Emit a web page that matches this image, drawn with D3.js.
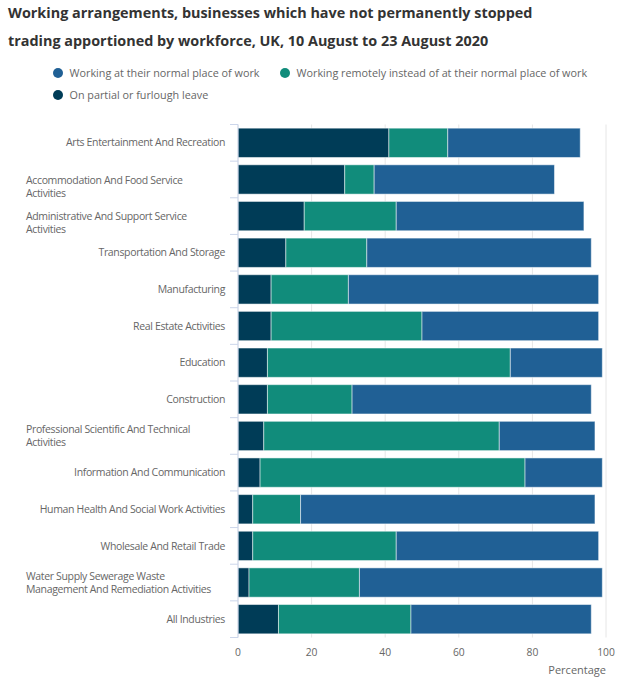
<!DOCTYPE html>
<html>
<head>
<meta charset="utf-8">
<script src="https://cdn.jsdelivr.net/npm/d3@7"></script>
<style>
  body { margin: 0; background: #fff; font-family: "Open Sans", sans-serif; }
</style>
</head>
<body>
<div id="chart"></div>
<script>
// categories, top to bottom
var industries = [
  ["Arts Entertainment And Recreation"],
  ["Accommodation And Food Service", "Activities"],
  ["Administrative And Support Service", "Activities"],
  ["Transportation And Storage"],
  ["Manufacturing"],
  ["Real Estate Activities"],
  ["Education"],
  ["Construction"],
  ["Professional Scientific And Technical", "Activities"],
  ["Information And Communication"],
  ["Human Health And Social Work Activities"],
  ["Wholesale And Retail Trade"],
  ["Water Supply Sewerage Waste", "Management And Remediation Activities"],
  ["All Industries"]
];

// series values (%)
var furlough = [41, 29, 18, 13, 9, 9, 8, 8, 7, 6, 4, 4, 3, 11];
var remote   = [16, 8, 25, 22, 21, 41, 66, 23, 64, 72, 13, 39, 30, 36];
var normal   = [36, 49, 51, 61, 68, 48, 25, 65, 26, 21, 80, 55, 66, 49];

var xTicks = [0, 20, 40, 60, 80, 100];

var seriesNames = ["On partial or furlough leave",
                   "Working remotely instead of at their normal place of work",
                   "Working at their normal place of work"];
var colors = ["#003c57", "#118c7b", "#206095"];

var width = 631, height = 688;
var svg = d3.select("#chart").append("svg")
  .attr("width", width).attr("height", height);

// title
var title = ["Working arrangements, businesses which have not permanently stopped",
             "trading apportioned by workforce, UK, 10 August to 23 August 2020"];
svg.selectAll(".title").data(title).enter().append("text")
  .attr("x", 8).attr("y", function(d, i) { return 12.5 + i * 28; })
  .attr("dy", "0.35em")
  .attr("font-size", "14.4px").attr("font-weight", "bold").attr("fill", "#333")
  .text(function(d) { return d; });

// legend
var legendItems = [
  {name: seriesNames[2], color: colors[2], x: 58, y: 73},
  {name: seriesNames[1], color: colors[1], x: 285, y: 73},
  {name: seriesNames[0], color: colors[0], x: 58, y: 95}
];
var lg = svg.selectAll(".legend").data(legendItems).enter().append("g")
  .attr("transform", function(d) { return "translate(" + d.x + "," + d.y + ")"; });
lg.append("circle").attr("r", 5).attr("fill", function(d) { return d.color; });
lg.append("text").attr("x", 11.5).attr("dy", "0.35em")
  .attr("font-size", "10.8px").attr("fill", "#666")
  .text(function(d) { return d.name; });

// scales
var x = d3.scaleLinear().domain([0, 100]).range([238, 606]);
var y = d3.scaleBand().domain(d3.range(industries.length))
  .range([124.5, 637.5]).paddingInner(0.2).paddingOuter(0.1);

// gridlines
svg.append("g").selectAll("line").data(xTicks).enter().append("line")
  .attr("x1", function(d) { return x(d); }).attr("x2", function(d) { return x(d); })
  .attr("y1", 124.5).attr("y2", 637.5)
  .attr("stroke", "#e6e6e6").attr("stroke-width", 1);

// stacked bars
var rows = industries.map(function(d, i) {
  return {i: i, furlough: furlough[i], remote: remote[i], normal: normal[i]};
});
var stack = d3.stack().keys(["furlough", "remote", "normal"]);
var layers = stack(rows);

svg.append("g").selectAll("g").data(layers).enter().append("g")
  .attr("fill", function(d, i) { return colors[i]; })
  .selectAll("rect").data(function(d) { return d; }).enter().append("rect")
  .attr("x", function(d) { return x(d[0]); })
  .attr("width", function(d) { return x(d[1]) - x(d[0]); })
  .attr("y", function(d) { return y(d.data.i); })
  .attr("height", y.bandwidth())
  .attr("stroke", "#fff").attr("stroke-opacity", 0.5).attr("stroke-width", 1);

// y axis line and ticks
var yAxis = svg.append("g");
yAxis.append("line")
  .attr("x1", 238).attr("x2", 238).attr("y1", 124.5).attr("y2", 637.5)
  .attr("stroke", "#ccd6eb");
var bounds = d3.range(industries.length + 1).map(function(i) {
  return 124.5 + i * (637.5 - 124.5) / industries.length;
});
yAxis.selectAll(".tk").data(bounds).enter().append("line")
  .attr("x1", 230).attr("x2", 238)
  .attr("y1", function(d) { return d; }).attr("y2", function(d) { return d; })
  .attr("stroke", "#ccd6eb");

// y labels; the first two wrapped ones sit low in the original
var lowWrapped = [1, 2];
var lab = yAxis.selectAll(".lab").data(industries).enter().append("text")
  .attr("font-size", "10.5px").attr("letter-spacing", "-0.35px").attr("fill", "#666")
  .attr("text-anchor", function(d) { return d.length > 1 ? "start" : "end"; })
  .attr("y", function(d, i) {
    var c = y(i) + y.bandwidth() / 2;
    if (d.length === 1) return c;
    return lowWrapped.indexOf(i) >= 0 ? c + 0.6 : c - 6.3;
  });
lab.selectAll("tspan").data(function(d) { return d; }).enter().append("tspan")
  .attr("x", function(d, j, n) { return n.length > 1 ? 26 : 225; })
  .attr("dy", function(d, j) { return j === 0 ? "0.35em" : "12.8"; })
  .text(function(d) { return d; });

// x axis labels
svg.append("g").selectAll("text").data(xTicks).enter().append("text")
  .attr("x", function(d) { return x(d); }).attr("y", 652).attr("dy", "0.35em")
  .attr("text-anchor", "middle").attr("font-size", "10.3px").attr("fill", "#666")
  .text(function(d) { return d; });

svg.append("text").attr("x", 606).attr("y", 670).attr("dy", "0.35em")
  .attr("text-anchor", "end").attr("font-size", "11px").attr("fill", "#666")
  .text("Percentage");
</script>
</body>
</html>
